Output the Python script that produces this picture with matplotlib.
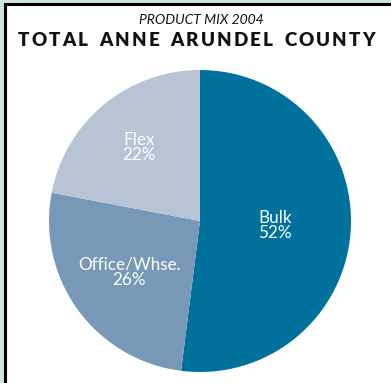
import matplotlib.pyplot as plt
import matplotlib.patches as mpatches
import numpy as np

plt.rcParams['font.family'] = ['Lato', 'DejaVu Sans']

# 数据
categories = ['Bulk', 'Office/Whse.', 'Flex']
shares = [52, 26, 22]
pct_labels = ['52%', '26%', '22%']
colors = ['#00719c', '#7898b7', '#b7c4d5']
label_dist = [0.50, 0.58, 0.63]   # 标签离圆心距离

title_top = 'PRODUCT MIX 2004'
title_main = 'TOTAL ANNE ARUNDEL COUNTY'

fig = plt.figure(figsize=(3.91, 3.83), dpi=100)
fig.patch.set_facecolor('#cde3e0')

# 白色面板 + 黑边框
W, H = 391.0, 383.0
panel = mpatches.Rectangle((4.5 / W, -0.1), 1.2, (H - 4.0) / H + 0.1, transform=fig.transFigure,
                           facecolor='white', edgecolor='black', linewidth=2.2, zorder=-5)
fig.patches.append(panel)

fig.text(201 / W, 1 - 20 / H, title_top, ha='center', va='center', fontsize=10, style='italic', color='#111111')

# 标题字母间距：逐字排版
renderer = fig.canvas.get_renderer()
x_left, x_right = 18.0, 375.0
y_main = 1 - 41 / H
chars = []
widths = []
for ch in title_main:
    t = fig.text(0, y_main, ch if ch != ' ' else 'I', ha='left', va='center', fontsize=13.5,
                 fontweight='heavy', color='#111111')
    bb = t.get_window_extent(renderer)
    widths.append(bb.width if ch != ' ' else bb.width * 1.2)
    if ch == ' ':
        t.set_visible(False)
    chars.append(t)
gap = (x_right - x_left - sum(widths)) / (len(chars) - 1)
x = x_left
for t, wd in zip(chars, widths):
    t.set_x(x / W)
    x += wd + gap

# 饼图位置: 圆心 (200, 221), 半径 151 px
cx, cy, r = 200.0, 221.0, 151.0
ax = fig.add_axes([(cx - r) / W, (H - cy - r) / H, 2 * r / W, 2 * r / H])
ax.set_zorder(2)
wedges, _ = ax.pie(shares, colors=colors, startangle=90, counterclock=False, radius=1.0,
                   wedgeprops=dict(linewidth=0))
ax.set_xlim(-1, 1)
ax.set_ylim(-1, 1)
ax.set_aspect('auto')
ax.axis('off')

for w, name, pct, d in zip(wedges, categories, pct_labels, label_dist):
    ang = np.deg2rad((w.theta1 + w.theta2) / 2)
    ax.text(d * np.cos(ang), d * np.sin(ang), name + '\n' + pct, ha='center', va='center',
            fontsize=12.3, color='white', linespacing=0.95)

fig.savefig('out.png', dpi=100, facecolor=fig.get_facecolor())
